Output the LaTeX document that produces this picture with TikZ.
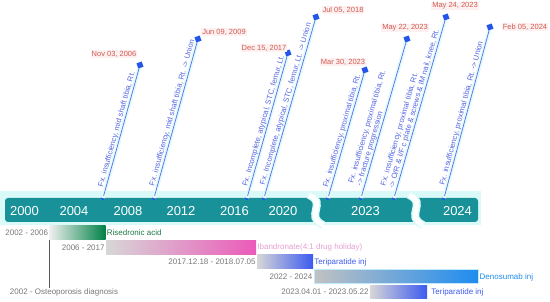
\documentclass[tikz,border=0pt]{standalone}
\usepackage{fontspec}
\setmainfont{Liberation Sans}
\usetikzlibrary{calc}
\definecolor{barteal}{RGB}{24,146,152}
\definecolor{bandcyan}{RGB}{218,250,250}
\definecolor{glowcyan}{RGB}{225,250,252}
\definecolor{pinblue}{RGB}{80,100,225}
\definecolor{lineblue}{RGB}{85,110,230}
\definecolor{markerblue}{RGB}{35,85,235}
\definecolor{datered}{RGB}{210,90,80}
\definecolor{datebg}{RGB}{253,240,240}
\definecolor{graytext}{RGB}{120,120,120}
\definecolor{greenbar}{RGB}{0,130,70}
\definecolor{greentext}{RGB}{30,120,70}
\definecolor{pinkbar}{RGB}{235,90,185}
\definecolor{pinktext}{RGB}{228,160,210}
\definecolor{bluebar}{RGB}{60,90,240}
\definecolor{denobar}{RGB}{30,140,240}
\definecolor{fadegray}{RGB}{215,215,215}
\begin{document}
\begin{tikzpicture}[x=1pt,y=-1pt,
  year/.style={text=white,font=\fontsize{13}{13}\selectfont,inner sep=0pt},
  dot/.style={circle,fill=markerblue,inner sep=0pt,minimum size=4pt},
  marker/.style={rectangle,fill=markerblue,inner sep=0pt,minimum size=5.5pt,rotate=20},
  glow/.style={glowcyan,line width=4pt},
  pinline/.style={lineblue,line width=0.7pt},
  pintext/.style={sloped,anchor=south west,text=pinblue,font=\fontsize{7.6}{8.6}\selectfont,inner sep=1pt,align=left},
  datelbl/.style={text=datered,fill=datebg,font=\fontsize{7.5}{8}\selectfont,inner sep=1pt},
  bar/.style={inner sep=0pt,minimum height=14pt},
  lbl/.style={font=\fontsize{8}{9}\selectfont,inner sep=1pt},
  gap/.style={line width=5pt,white}
]
\useasboundingbox (0,0) rectangle (550,302);
% timeline band and bar
\fill[bandcyan] (0,191) rectangle (481,225);
\fill[barteal,rounded corners=3pt] (5,198) rectangle (478,222);
\foreach \cx in {316,416}{
  \draw[bandcyan,line width=8pt] (\cx-7,195) .. controls (\cx+12,203) and (\cx-12,216) .. (\cx+7,225);
  \draw[gap] (\cx-7,195) .. controls (\cx+12,203) and (\cx-12,216) .. (\cx+7,225);
}
\node[year] (y2000) at (24.5,211) {2000};
\node[year] (y2004) at (74,211) {2004};
\node[year] (y2008) at (128,211) {2008};
\node[year] (y2012) at (181,211) {2012};
\node[year] (y2016) at (234.5,211) {2016};
\node[year] (y2020) at (283,211) {2020};
\node[year] (y2023) at (365.5,211) {2023};
\node[year] (y2024) at (457.5,211) {2024};
% pins
\node[dot] (d1) at (103,198) {};
\node[dot] (d2) at (154,198) {};
\node[dot] (d3) at (247,198) {};
\node[dot] (d4) at (264,198) {};
\node[dot] (d5) at (328,198) {};
\node[dot] (d6) at (361,198) {};
\node[dot] (d7) at (394,198) {};
\node[dot] (d8) at (444,198) {};
\coordinate (c1) at (140,65);
\coordinate (c2) at (198,39);
\coordinate (c3) at (288,53);
\coordinate (c4) at (316,17);
\coordinate (c5) at (365,70);
\coordinate (c6) at (407,39);
\coordinate (c7) at (446,17);
\coordinate (c8) at (490,27);
\foreach \i in {1,...,8}{\draw[glow] (d\i.center) -- (c\i);}
\node[marker] (m1) at (c1) {};
\node[marker] (m2) at (c2) {};
\node[marker] (m3) at (c3) {};
\node[marker] (m4) at (c4) {};
\node[marker] (m5) at (c5) {};
\node[marker] (m6) at (c6) {};
\node[marker] (m7) at (c7) {};
\node[marker] (m8) at (c8) {};
\draw[pinline] (d1) -- (m1) node[pintext,pos=0.05] {Fx. insufficiency, mid shaft tibia, Rt.};
\draw[pinline] (d2) -- (m2) node[pintext,pos=0.05] {Fx. insufficiency, mid shaft tibia, Rt. -> Union};
\draw[pinline] (d3) -- (m3) node[pintext,pos=0.05] {Fx. Incomplete, atypical, STC, femur, Lt.};
\draw[pinline] (d4) -- (m4) node[pintext,pos=0.05] {Fx. Incomplete, atypical, STC, femur, Lt. -> Union};
\draw[pinline] (d5) -- (m5) node[pintext,pos=0.05] {Fx. insufficiency, proximal tibia, Rt.};
\draw[pinline] (d6) -- (m6) node[pintext,pos=0.05] {Fx. insufficiency, proximal tibia, Rt.\\-> fracture progression};
\draw[pinline] (d7) -- (m7) node[pintext,pos=0.03] {Fx. insufficiency, proximal tibia, Rt.\\-> O/R \& I/F c plate \& screws \& IM nail, knee, Rt.};
\draw[pinline] (d8) -- (m8) node[pintext,pos=0.05] {Fx. insufficiency, proximal tibia, Rt. -> Union};
\node[datelbl] (t1) at (114,54) {Nov 03, 2006};
\node[datelbl] (t2) at (224,32) {Jun 09, 2009};
\node[datelbl] (t3) at (264,48) {Dec 15, 2017};
\node[datelbl] (t4) at (343,10) {Jul 05, 2018};
\node[datelbl] (t5) at (343,62) {Mar 30, 2023};
\node[datelbl] (t6) at (405,28) {May 22, 2023};
\node[datelbl] (t7) at (455,6) {May 24, 2023};
\node[datelbl] (t8) at (525,27) {Feb 05, 2024};
% medication bars
\node[bar,minimum width=56pt,left color=fadegray!40,right color=greenbar] (r1) at (77.5,233) {};
\node[bar,minimum width=150pt,left color=fadegray,right color=pinkbar] (r2) at (181,247.5) {};
\node[bar,minimum width=56pt,left color=fadegray,right color=bluebar] (r3) at (285,262) {};
\node[bar,minimum width=164pt,left color=fadegray!90!black,right color=denobar,draw=cyan!25,line width=1pt] (r4) at (396,277) {};
\node[bar,minimum width=57pt,minimum height=13pt,left color=fadegray,right color=bluebar] (r5) at (398.5,292) {};
\node[lbl,text=graytext,anchor=east] (l1) at (r1.west) {2002 - 2006};
\node[lbl,text=greentext,anchor=west] (n1) at (r1.east) {Risedronic acid};
\node[lbl,text=graytext,anchor=east] (l2) at (r2.west) {2006 - 2017};
\node[lbl,text=pinktext,anchor=west] (n2) at (r2.east) {Ibandronate(4:1 drug holiday)};
\node[lbl,text=graytext,anchor=east] (l3) at (r3.west) {2017.12.18 - 2018.07.05};
\node[lbl,text=bluebar,anchor=west] (n3) at (r3.east) {Teriparatide inj};
\node[lbl,text=graytext,anchor=east] (l4) at (r4.west) {2022 - 2024};
\node[lbl,text=denobar,anchor=west] (n4) at (r4.east) {Denosumab inj};
\node[lbl,text=graytext,anchor=east] (l5) at (r5.west) {2023.04.01 - 2023.05.22};
\node[lbl,text=bluebar,anchor=west,xshift=3pt] (n5) at (r5.east) {Teriparatide inj};
\node[lbl,text=graytext] (diag) at (64,292.5) {2002 - Osteoporosis diagnosis};
\draw[black!65,line width=0.8pt] (r1.south west) -- (r1.south west |- diag.north);
\end{tikzpicture}
\end{document}
